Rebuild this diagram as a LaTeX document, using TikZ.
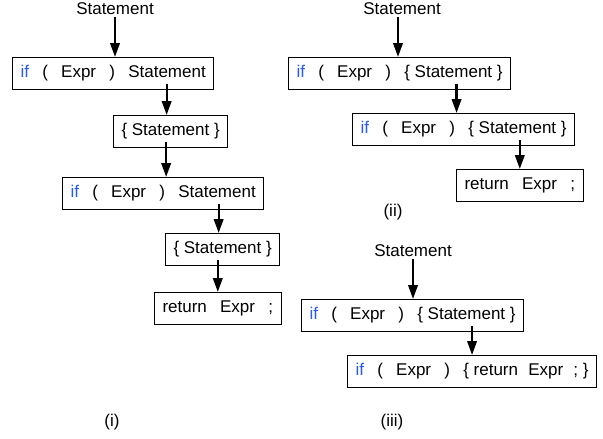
\documentclass[tikz,border=0pt]{standalone}
\usepackage{fontspec}
\setmainfont{Liberation Sans}
\usepackage{xcolor}
\usetikzlibrary{arrows.meta,positioning}
\definecolor{kwblue}{RGB}{40,90,250}
\newcommand{\gp}{\hspace{0.78em}}
\newcommand{\sgp}{\hspace{0.6em}}
\newcommand{\kwif}{\textcolor{kwblue}{if}}
\tikzset{
  box/.style={draw, line width=1pt, minimum height=32pt, inner xsep=8pt, anchor=north west},
  arr/.style={-{Triangle[length=14pt,width=9.5pt]}, line width=2.2pt},
  lbl/.style={inner sep=2pt}
}
\begin{document}
\begin{tikzpicture}[x=1pt, y=-1pt, font=\fontsize{17}{19}\selectfont]
    \useasboundingbox (0,0) rectangle (603,439);

    % Derivation (i)
    \node[lbl] (s1) at (115,9) {Statement};
    \node[box] (b1) at (12,57) {\kwif\gp(\gp Expr\gp)\gp Statement};
    \node[box] (b2) at (113,115) {\{ Statement \}};
    \node[box] (b3) at (62,177) {\kwif\gp(\gp Expr\gp)\gp Statement};
    \node[box] (b4) at (165,233) {\{ Statement \}};
    \node[box] (b5) at (154,292) {return\gp Expr\gp ;};
    \node (c1) at (112,422) {(i)};

    \draw[arr] (s1) -- (s1 |- b1.north);
    \draw[arr] ([shift={(-4,-6)}]b1.south -| b2.north) -- ([xshift=-4pt]b2.north);
    \draw[arr] ([shift={(3,-6)}]b2.south -| b3.north) -- ([xshift=3pt]b3.north);
    \draw[arr] ([shift={(-4,-6)}]b3.south -| b4.north) -- ([xshift=-4pt]b4.north);
    \draw[arr] ([yshift=6pt]b4.south -| b5.north) -- (b5.north);

    % Derivation (ii)
    \node[lbl] (s2) at (402,9) {Statement};
    \node[box] (bA) at (288,57) {\kwif\gp(\gp Expr\gp)\gp\{ Statement \}};
    \node[box] (bB) at (352,113) {\kwif\gp(\gp Expr\gp)\gp\{ Statement \}};
    \node[box] (bC) at (456,169) {return\gp Expr\gp ;};
    \node (c2) at (393,212) {(ii)};

    \draw[arr] ([xshift=-4pt]s2.south) -- ([xshift=-4pt]s2.south |- bA.north);
    \draw[arr] ([shift={(-7,-6)}]bA.south -| bB.north) -- ([xshift=-7pt]bB.north);
    \draw[arr] ([yshift=6pt]bB.south -| bC.north) -- (bC.north);

    % Derivation (iii)
    \node[lbl] (s3) at (413,251) {Statement};
    \node[box] (bD) at (301,299) {\kwif\gp(\gp Expr\gp)\gp\{ Statement \}};
    \node[box] (bE) at (347,355) {\kwif\gp(\gp Expr\gp)\gp\{ return\sgp Expr\sgp ; \}};
    \node (c3) at (392,422) {(iii)};

    \draw[arr] (s3) -- (s3 |- bD.north);
    \draw[arr] ([yshift=6pt]bD.south -| bE.north) -- (bE.north);
\end{tikzpicture}
\end{document}
